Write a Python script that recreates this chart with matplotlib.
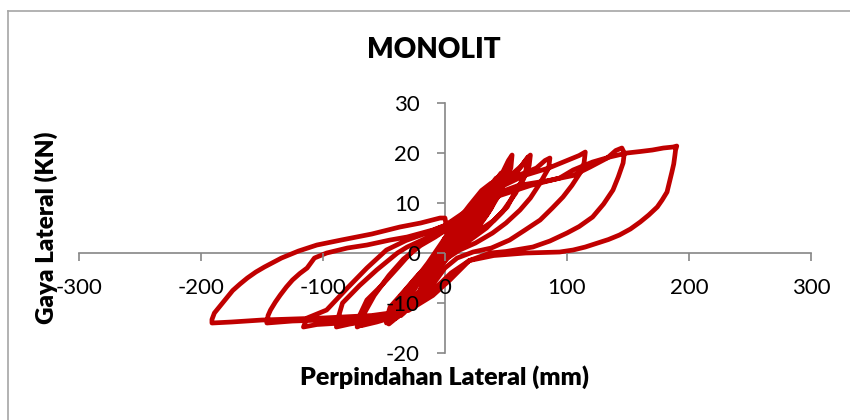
import matplotlib
matplotlib.use('Agg')
import matplotlib.pyplot as plt
from matplotlib.lines import Line2D

plt.rcParams['font.family'] = ['Lato', 'DejaVu Sans']
plt.rcParams['axes.unicode_minus'] = False

# Hysteresis data (disp mm, force kN)
small_a_disp = [0, 6, 12, 9, 4, 0, -6, -12, -9, -4, 0]
small_a_force = [0, 3, 5.5, 4, 1.5, -0.5, -3.5, -5.5, -3.5, -1, 0.8]
small_b_disp = [0, 8, 16, 22, 18, 10, 2, -6, -14, -22, -18, -10, -2, 4]
small_b_force = [0.8, 4, 6.5, 8.5, 6, 3, 0.3, -2.5, -5.5, -8.5, -6, -3, -0.2, 2]
small_c_disp = [4, 12, 22, 32, 28, 18, 8, 0, -10, -20, -32, -28, -18, -8, 0]
small_c_force = [2, 5, 8.5, 11.5, 9, 5, 1.5, -1, -4.5, -8, -11.5, -8.5, -4.5, -1, 2]
small_d_disp = [0, 10, 22, 34, 42, 38, 28, 16, 6, -4, -16, -28, -40, -36, -26, -14, -4, 0]
small_d_force = [2, 5, 9, 12.5, 15, 12, 8, 4, 1, -2, -6, -10, -13, -10, -6, -2.5, 1, 3]
small_e_disp = [0, 9, 20, 30, 38, 34, 24, 12, 2, -8, -20, -30, -36, -32, -22, -10, 0]
small_e_force = [3, 6, 9.5, 12.5, 14, 10.5, 6.5, 3, 0, -3.5, -7.5, -11, -12.5, -9, -5, -1, 2.5]
small_f_disp = [0, 14, 28, 40, 46, 44, 34, 20, 8, -6, -20, -34, -44, -40, -28, -14, 0]
small_f_force = [2.5, 6.5, 10.5, 14, 16, 13, 9, 4.5, 1, -3, -7.5, -11.5, -13.5, -11, -6.5, -2, 3]

cyc1_disp = [0, 12, 25, 38, 47, 52, 55, 54, 47.5, 38, 28.7, 18, 8, 0,
             -6, -14, -24, -34, -42, -48, -47, -45, -33, -20.5, -10, -4, 0]
cyc1_force = [3, 6.5, 10, 13.5, 16, 18.5, 19.6, 17, 14, 9, 5.6, 3, 1.6, 0,
              -2, -5.5, -9, -12, -13.2, -14, -12.5, -10.8, -7.5, -4, -1.8, -0.4, 1.5]
cyc1b_disp = [0, 14, 28, 40, 48, 52, 50, 44, 34, 22, 10, 0,
              -8, -18, -30, -40, -46, -44, -36, -24, -12, 0]
cyc1b_force = [1.5, 6, 10, 13.5, 16, 18.2, 15, 11.5, 7.5, 4.2, 1.8, -0.5,
               -3.5, -7.5, -11, -13, -14.2, -12, -8.5, -5, -2, 2]

cyc2_disp = [0, 10, 22, 35, 48, 60, 66, 70, 69, 64, 57, 51, 40, 28.7, 15, 6.6, 0,
             -8, -18, -28, -40, -55, -65, -72, -70, -64, -52, -39, -31, -23, -12, 0]
cyc2_force = [1.5, 5, 8.5, 12, 14.5, 16.5, 18.5, 19.6, 17.5, 14.6, 12, 9.2, 6.5, 4.6, 2.5, 1.2, -0.5,
              -3.5, -7, -10, -12, -13.3, -14, -14.8, -12.5, -9.4, -6.5, -3, -0.8, 1.2, 3, 4.5]
cyc2b_disp = [0, 14, 30, 45, 56, 63, 68, 66, 58, 47, 34, 20, 8, -2,
              -14, -28, -42, -56, -68, -66, -58, -46, -34, -20, -8, 0]
cyc2b_force = [4.5, 7.5, 11, 14, 16, 17.5, 19.2, 16, 12, 8.2, 5, 2.5, 0.5, -2,
               -6.5, -10.5, -12.8, -13.8, -14.5, -12, -8.5, -4.5, -1.2, 1.5, 3.2, 4.5]

cyc3_disp = [0, 12, 28, 45, 60, 75, 82, 86, 85, 78, 70, 61.5, 50, 39, 25, 12, 2,
             -10, -20, -32, -45, -60, -78, -89, -87, -84, -70, -56, -39, -31, -15, 0]
cyc3_force = [4.5, 7, 10.5, 13.5, 15.5, 17, 18.5, 19, 17, 14, 11, 8.6, 6, 4, 2, 0.6, -1,
              -4.5, -8, -11, -12.5, -13.5, -14.2, -14.8, -12.5, -10, -6.5, -3.4, 0, 1.2, 3, 4.5]

cyc4_disp = [0, 15, 30, 48, 65, 85, 100, 110, 115, 114, 110.7, 104, 96.7, 88, 78, 65, 53, 38, 23, 10,
             0, -12, -25, -40, -60, -85, -105, -116, -113, -97, -80, -64, -48, -32, -15, 0]
cyc4_force = [4.5, 7.5, 10.5, 13.5, 15.5, 17, 18.5, 19.5, 20.2, 18, 16, 13.5, 11.2, 9, 6.6, 4.5, 2.6, 1, 0.2, -1,
              -3, -7, -10.5, -12.5, -13.5, -14, -14.3, -14.8, -13, -11.4, -7, -3, 0.6, 2.5, 4, 5.5]

cyc5_disp = [0, 18, 38, 60, 85, 105, 119, 133, 140, 145, 147, 146, 142, 137.7, 130, 121, 110, 100, 86, 72, 50, 37, 20,
             5, -10, -25, -45, -70, -100, -125, -146, -145, -143, -139, -135, -130, -125, -119, -113, -107, -97,
             -80, -64, -45, -31, -10, 0]
cyc5_force = [5.5, 8.5, 11.5, 13.5, 14.5, 15.5, 17.2, 19, 20.5, 21, 20, 18, 15.2, 12.6, 9.8, 7.2, 5.3, 4, 2.4, 1.2, 0.3, 0, -1.5,
              -4, -7.5, -10.5, -12.2, -13, -13.4, -13.6, -14, -12.5, -11.4, -9.8, -8.4, -6.8, -5.4, -4.1, -3, -1, 0,
              1, 1.6, 2.6, 3.2, 4.6, 5.5]

cyc6_disp = [0, 20, 45, 70, 94, 105, 121, 135, 149, 160, 170, 179, 187, 190,
             189, 188.5, 187.5, 186, 182, 178, 174, 167, 160, 152, 143, 134, 125, 115, 105, 94, 66, 40, 20, 4,
             -10, -30, -60, -100, -150, -175, -191,
             -191, -189, -184, -179, -174, -168, -162, -155, -148, -141, -134, -127, -120, -105, -85, -60,
             -37, -20, -4, 0, 1]
cyc6_force = [5.5, 8, 11.5, 13.5, 15, 16.6, 18.2, 19.2, 20, 20.3, 20.6, 21, 21.2, 21.4,
              20.6, 19.6, 17.8, 16.2, 12.2, 10.6, 9.2, 7.6, 6.2, 4.8, 3.6, 2.7, 2, 1.2, 0.6, 0.2, 0, -0.5, -1.5, -5.4,
              -8.5, -11.5, -12.5, -13, -13.4, -13.8, -14,
              -13.3, -12, -10.5, -9, -7.5, -6.2, -5, -3.8, -2.8, -1.9, -1, -0.3, 0.4, 1.6, 2.6, 3.8,
              5.2, 6, 7, 7, 5.5]

x_ticks = [-300, -200, -100, 0, 100, 200, 300]
y_ticks = [-20, -10, 0, 10, 20, 30]

disp = (small_a_disp + small_b_disp + small_c_disp + small_d_disp + small_e_disp + small_f_disp
        + cyc1_disp + cyc1b_disp + cyc2_disp + cyc2b_disp + cyc3_disp + cyc4_disp + cyc5_disp + cyc6_disp)
force = (small_a_force + small_b_force + small_c_force + small_d_force + small_e_force + small_f_force
         + cyc1_force + cyc1b_force + cyc2_force + cyc2b_force + cyc3_force + cyc4_force + cyc5_force
         + cyc6_force)

fig = plt.figure(figsize=(8.5, 4.2), dpi=100)
ax = fig.add_axes([0.0929, 0.1595, 0.8612, 0.5952])

ax.plot(disp, force, color='#C00000', lw=3.4, solid_joinstyle='round', zorder=2)

ax.set_xlim(-300, 300)
ax.set_ylim(-20, 30)
ax.set_xticks(x_ticks)
ax.set_yticks(y_ticks)

gray = '#868686'
for side in ['top', 'right']:
    ax.spines[side].set_visible(False)
for side in ['left', 'bottom']:
    ax.spines[side].set_position(('data', 0))
    ax.spines[side].set_color(gray)
    ax.spines[side].set_linewidth(1.2)
    ax.spines[side].set_zorder(1)
ax.xaxis.set_zorder(3)
ax.yaxis.set_zorder(3)
ax.tick_params(axis='both', direction='out', length=6, width=1.2, color=gray,
               labelsize=16, pad=12, labelcolor='black')

# chart area border (Excel style)
fig.add_artist(Line2D([8/850, 1], [1 - 11/420, 1 - 11/420], color='#a6a6a6', lw=1.2))
fig.add_artist(Line2D([8/850, 8/850], [0, 1 - 11/420], color='#a6a6a6', lw=1.2))

fig.text(434/850, 1 - 50/420, 'MONOLIT', ha='center', va='center', fontsize=20, fontweight='heavy')
fig.text(444/850, 1 - 377/420, 'Perpindahan Lateral (mm)', ha='center', va='center',
         fontsize=18, fontweight='heavy')
fig.text(46/850, 1 - 228/420, 'Gaya Lateral (KN)', ha='center', va='center', rotation=90,
         fontsize=17.5, fontweight='heavy')

fig.savefig('out.png', dpi=100)
